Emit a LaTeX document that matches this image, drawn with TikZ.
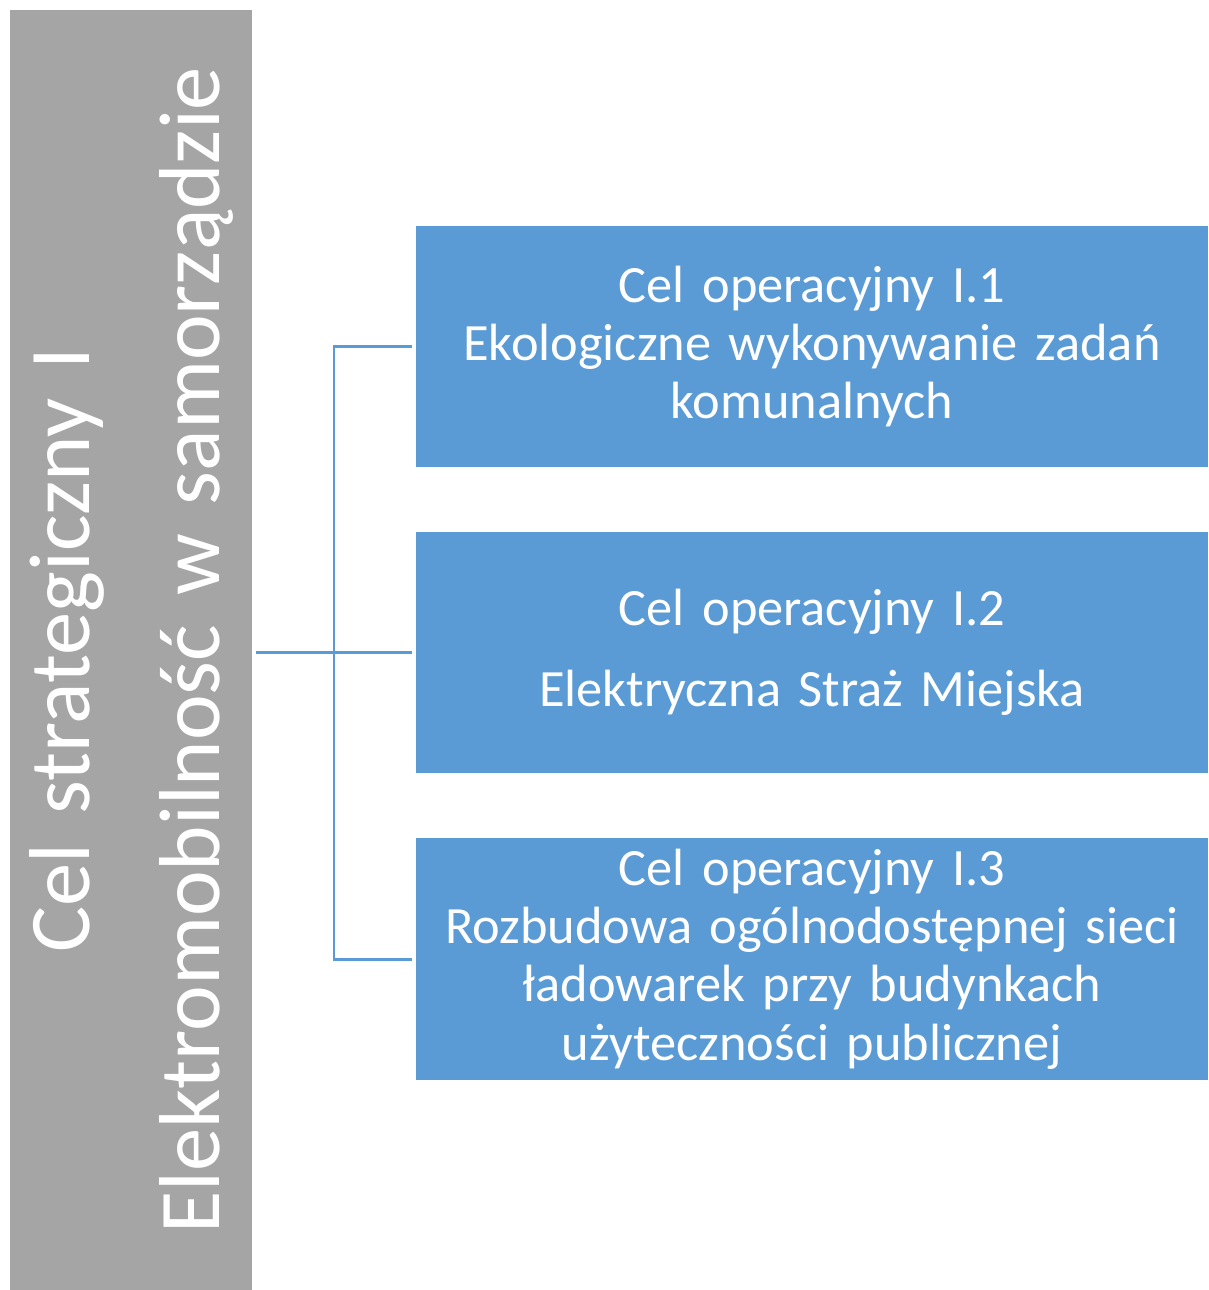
\documentclass[tikz,border=0pt]{standalone}
\usepackage{fontspec}
\setmainfont{Carlito}
\definecolor{celgray}{HTML}{A5A5A5}
\definecolor{celblue}{HTML}{5B9BD5}

\begin{document}
\begin{tikzpicture}[x=0.01cm,y=-0.01cm]
  \tikzstyle{strategic}=[fill=celgray, text=white, inner sep=0pt, rotate=90,
    minimum width=12.8cm, minimum height=2.42cm, text width=12.6cm, align=center,
    font=\fontsize{24.6}{37}\selectfont]
  \tikzstyle{operational}=[fill=celblue, text=white, inner sep=0pt,
    minimum width=7.92cm, minimum height=2.41cm, text width=7.8cm, align=center,
    font=\fontsize{14.9}{16.6}\selectfont]
  \tikzstyle{conn}=[draw=celblue, line width=0.85pt]
  \useasboundingbox (0,0) rectangle (1208,1290);
  \node[strategic] (strat) at (131,650) {Cel strategiczny I\\Elektromobilność w samorządzie};
  \node[operational] (op1) at (812,346.5) {Cel operacyjny I.1\\Ekologiczne wykonywanie zadań\\komunalnych};
  \node[operational] (op2) at (812,652.5) {Cel operacyjny I.2\\[0.23cm]Elektryczna Straż Miejska};
  \node[operational] (op3) at (812,959) {Cel operacyjny I.3\\Rozbudowa ogólnodostępnej sieci\\ładowarek przy budynkach\\użyteczności publicznej};
  \coordinate (bus) at (334,652.5);
  % connectors
  \draw[conn, shorten <=0.03cm, shorten >=0.03cm] (strat.south |- op2.west) -- (op2.west);
  \draw[conn, shorten <=0.03cm] (op1.west) -| (bus);
  \draw[conn, shorten >=0.03cm] (bus) |- (op3.west);
\end{tikzpicture}
\end{document}
